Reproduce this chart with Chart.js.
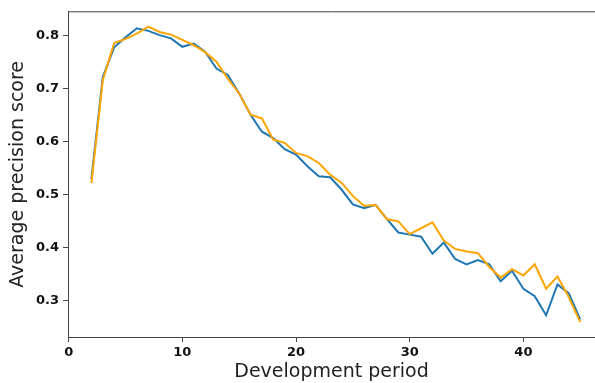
<!DOCTYPE html>
<html>
<head>
<meta charset="utf-8">
<script src="https://cdn.jsdelivr.net/npm/chart.js@4/dist/chart.umd.min.js"></script>
<style>
  html, body { margin: 0; padding: 0; background: #fff; overflow: hidden; }
  canvas { display: block; }
</style>
</head>
<body>
<canvas id="apChart" width="595" height="383"></canvas>
<script>
// development periods on the x axis
const periods = [2, 3, 4, 5, 6, 7, 8, 9, 10, 11, 12, 13, 14, 15, 16, 17, 18, 19, 20, 21, 22, 23,
  24, 25, 26, 27, 28, 29, 30, 31, 32, 33, 34, 35, 36, 37, 38, 39, 40, 41, 42, 43, 44, 45];

// average precision, first model (blue)
const apBlue = [0.530, 0.722, 0.778, 0.797, 0.814, 0.809, 0.801, 0.795, 0.779, 0.785, 0.770,
  0.738, 0.726, 0.691, 0.651, 0.619, 0.607, 0.586, 0.576, 0.554, 0.535, 0.533,
  0.510, 0.482, 0.475, 0.481, 0.454, 0.429, 0.425, 0.421, 0.389, 0.410, 0.379,
  0.369, 0.377, 0.369, 0.337, 0.357, 0.323, 0.309, 0.273, 0.331, 0.314, 0.265];

// average precision, second model (orange)
const apOrange = [0.522, 0.716, 0.786, 0.794, 0.804, 0.817, 0.807, 0.802, 0.792, 0.782, 0.769,
  0.751, 0.719, 0.691, 0.651, 0.644, 0.604, 0.598, 0.579, 0.573, 0.560, 0.538,
  0.523, 0.498, 0.479, 0.481, 0.454, 0.450, 0.426, 0.437, 0.448, 0.414, 0.398,
  0.393, 0.390, 0.364, 0.344, 0.360, 0.348, 0.369, 0.323, 0.346, 0.307, 0.260];

const xTicks = [0, 10, 20, 30, 40];
const yTicks = [0.3, 0.4, 0.5, 0.6, 0.7, 0.8];

const toPoints = (ys) => periods.map((p, i) => ({ x: p, y: ys[i] }));

const tickFont = { family: 'DejaVu Sans', size: 13, weight: 'bold' };
const titleFont = { family: 'DejaVu Sans', size: 19, weight: 'normal' };
const spine = '#444';

// top frame line (the right edge runs off the canvas)
const topSpine = {
  id: 'topSpine',
  afterDraw(chart) {
    const { ctx, chartArea } = chart;
    ctx.save();
    ctx.strokeStyle = spine;
    ctx.lineWidth = 1;
    ctx.beginPath();
    ctx.moveTo(chartArea.left, chartArea.top);
    ctx.lineTo(chart.width, chartArea.top);
    ctx.stroke();
    ctx.restore();
  }
};

new Chart(document.getElementById('apChart'), {
  type: 'line',
  data: {
    datasets: [
      {
        label: 'blue',
        data: toPoints(apBlue),
        borderColor: '#1f77b4',
        borderWidth: 2,
        pointRadius: 0,
        tension: 0,
        order: 2
      },
      {
        label: 'orange',
        data: toPoints(apOrange),
        borderColor: '#ffa500',
        borderWidth: 2,
        pointRadius: 0,
        tension: 0,
        order: 1
      }
    ]
  },
  options: {
    responsive: false,
    animation: false,
    layout: { padding: { top: 9, right: 0, left: 0, bottom: 0 } },
    plugins: {
      legend: { display: false },
      tooltip: { enabled: false }
    },
    scales: {
      x: {
        type: 'linear',
        min: -0.06,
        max: 46.3,
        afterBuildTicks: (scale) => { scale.ticks = xTicks.map(v => ({ value: v })); },
        afterFit: (scale) => { scale.height = 46; },
        ticks: { font: tickFont, color: '#111', padding: 3, maxRotation: 0 },
        grid: { display: true, drawOnChartArea: false, drawTicks: true, tickLength: 5, color: spine },
        border: { display: true, color: spine, width: 1 },
        title: { display: true, text: 'Development period', font: titleFont, color: '#222',
          padding: { top: 0, bottom: 0 } }
      },
      y: {
        min: 0.232,
        max: 0.845,
        afterBuildTicks: (scale) => { scale.ticks = yTicks.map(v => ({ value: v })); },
        afterFit: (scale) => { scale.width = 68; },
        ticks: { font: tickFont, color: '#111', padding: 4, callback: (v) => v.toFixed(1) },
        grid: { display: true, drawOnChartArea: false, drawTicks: true, tickLength: 5, color: spine },
        border: { display: true, color: spine, width: 1 },
        title: { display: true, text: 'Average precision score', font: titleFont, color: '#222',
          padding: { top: 7, bottom: 0 } }
      }
    }
  },
  plugins: [topSpine]
});
</script>
</body>
</html>
